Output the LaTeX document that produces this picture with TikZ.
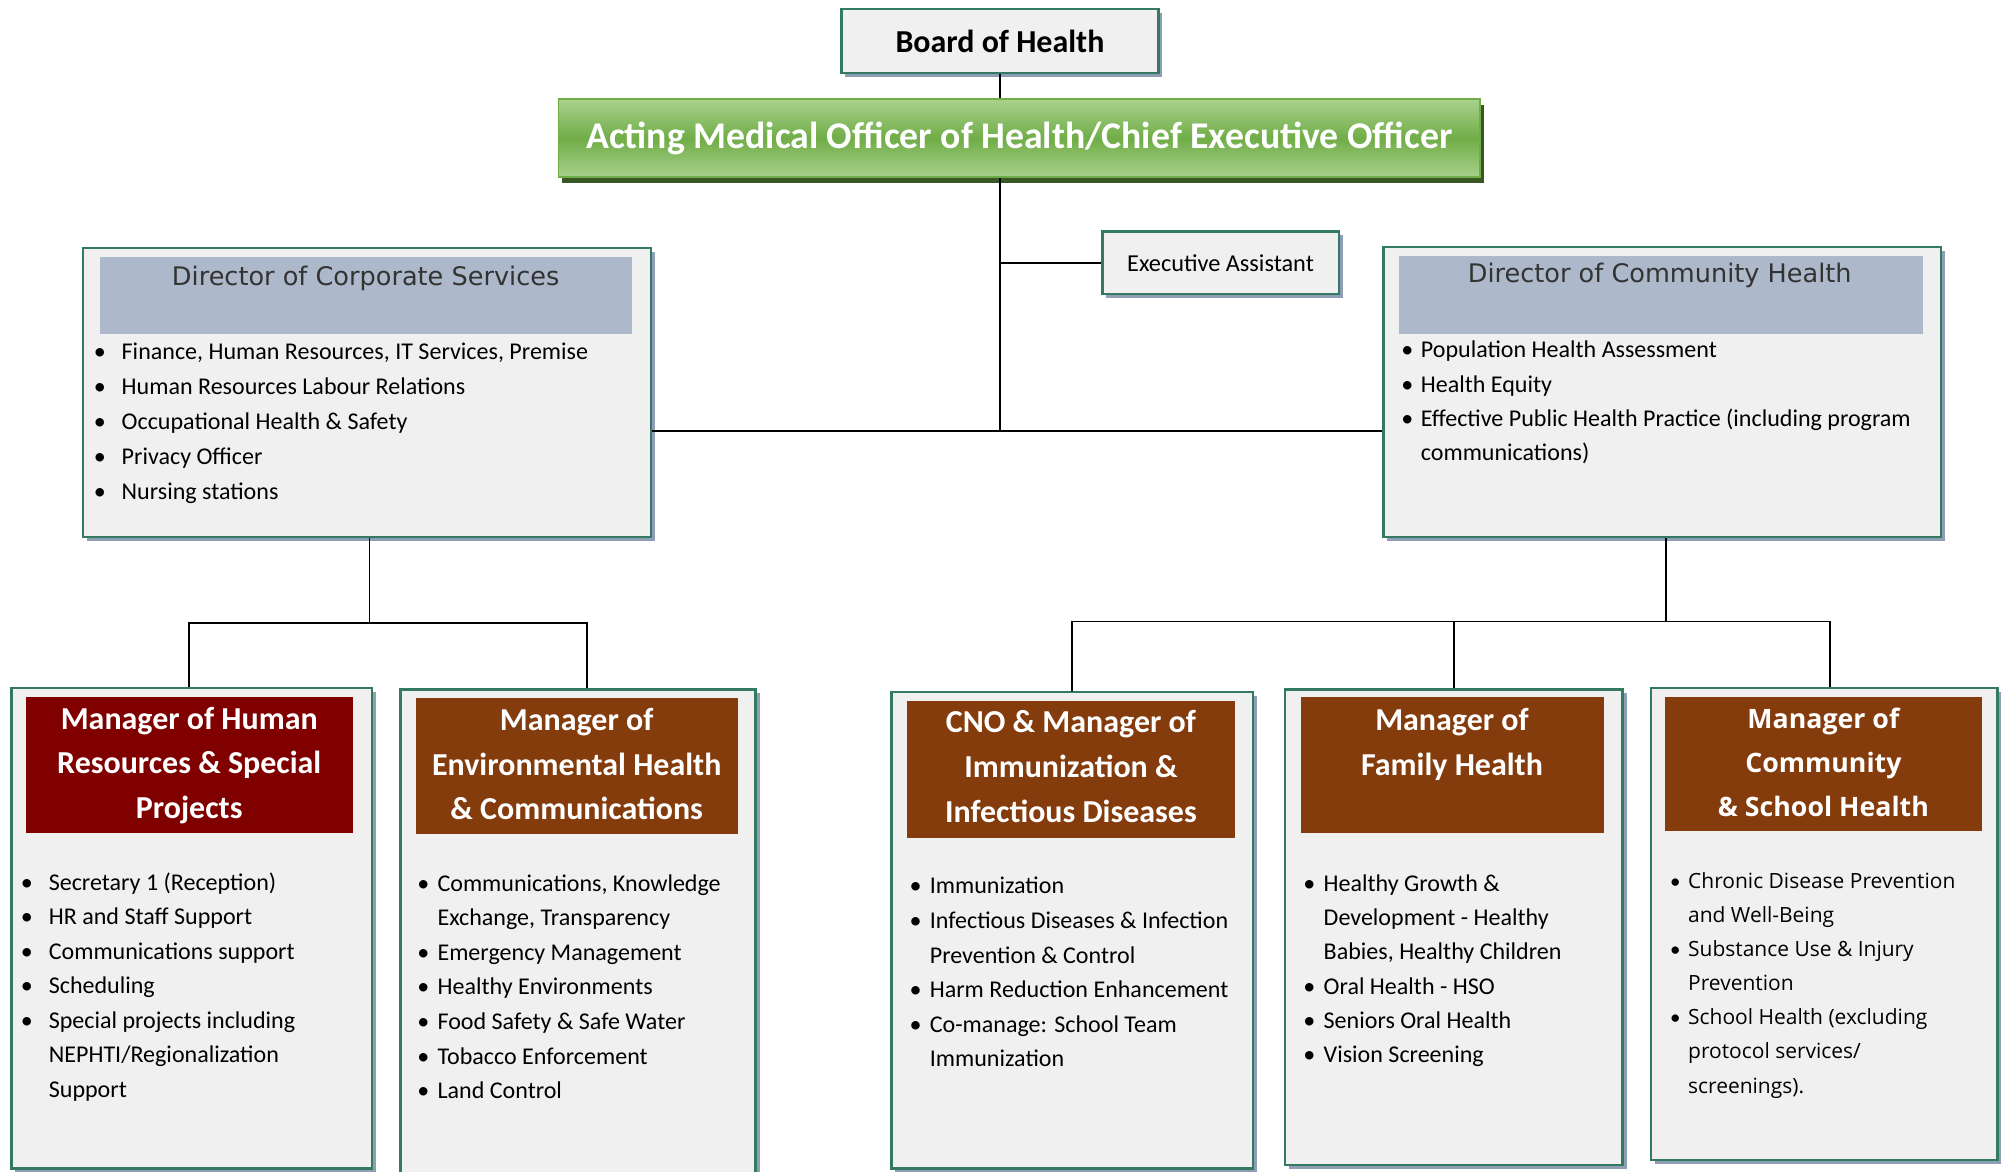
\documentclass[tikz,border=0pt]{standalone}
\usepackage{fontspec}
\setmainfont{Carlito}
\newfontfamily\opensans{Open Sans}
\newfontfamily\dejavu{DejaVu Sans}
\usetikzlibrary{shadows,calc}
\definecolor{bordergreen}{RGB}{52,122,96}
\definecolor{boxfill}{RGB}{240,240,240}
\definecolor{shadowblue}{RGB}{142,158,182}
\definecolor{headblue}{RGB}{173,185,202}
\definecolor{hrred}{RGB}{128,0,0}
\definecolor{mgrbrown}{RGB}{132,60,12}
\definecolor{greenlight}{RGB}{169,209,142}
\definecolor{greenmid}{RGB}{112,173,71}
\definecolor{greendark}{RGB}{56,87,35}
\newcommand{\orgbul}[1]{\llap{{\rmfamily\textbullet}\hspace{#1}}}
\tikzset{
  orgbox/.style={draw=bordergreen, line width=2pt, fill=boxfill, inner sep=0pt, anchor=north west,
    general shadow={fill=shadowblue, shadow xshift=3pt, shadow yshift=-3pt}},
  headrect/.style={draw=none, inner sep=0pt, anchor=north west},
  conn/.style={draw=black, line width=1.2pt},
  dirtitle/.style={anchor=base, inner sep=0pt, text=black!80, font=\dejavu\fontsize{20}{24}\selectfont},
  mgrtitle/.style={anchor=north, inner sep=0pt, align=center, text=white, font=\bfseries\fontsize{25}{35}\selectfont},
  listtext/.style={anchor=north west, inner sep=0pt, align=left, text=black, font=\fontsize{18.8}{#1}\selectfont},
}
\begin{document}
\begin{tikzpicture}[x=1pt,y=-1pt]
\useasboundingbox (0,0) rectangle (1568,916);

% top
\node[orgbox, minimum width=248pt, minimum height=50pt, font=\bfseries\fontsize{25}{28}\selectfont] (board) at (657,6) {Board of Health};
\node[anchor=north west, inner sep=0pt, minimum width=721pt, minimum height=61pt,
  top color=greenlight, bottom color=greenlight, middle color=greenmid, draw=greenmid, line width=1.5pt,
  general shadow={fill=greendark, shadow xshift=3pt, shadow yshift=-4pt},
  text=white, font=\bfseries\fontsize{29.5}{32}\selectfont] (mo) at (436,77) {Acting Medical Officer of Health/Chief Executive Officer};
\node[orgbox, minimum width=185pt, minimum height=49pt, font=\fontsize{19}{22}\selectfont] (ea) at (861,180) {Executive Assistant};

% directors
\node[orgbox, minimum width=444pt, minimum height=226pt] (corp) at (64,193) {};
\node[headrect, fill=headblue, minimum width=416pt, minimum height=60pt] (corphead) at (78,201) {};
\node[dirtitle] (corpt) at (286,223.3) {Director of Corporate Services};
\node[listtext=27.3] (corplist) at (95,262) {\strut\orgbul{12.5pt}Finance, Human Resources, IT Services, Premise\\
\orgbul{12.5pt}Human Resources Labour Relations\\
\orgbul{12.5pt}Occupational Health \& Safety\\
\orgbul{12.5pt}Privacy Officer\\
\orgbul{12.5pt}Nursing stations};

\node[orgbox, minimum width=436pt, minimum height=227pt] (comm) at (1081,192) {};
\node[headrect, fill=headblue, minimum width=410pt, minimum height=61pt] (commhead) at (1094,200) {};
\node[dirtitle] (commt) at (1298,221.3) {Director of Community Health};
\node[listtext=26.7] (commlist) at (1111,261) {\strut\orgbul{6pt}Population Health Assessment\\
\orgbul{6pt}Health Equity\\
\orgbul{6pt}Effective Public Health Practice (including program\\
communications)};

% managers
\node[orgbox, minimum width=282pt, minimum height=376pt] (hr) at (8,537) {};
\node[headrect, fill=hrred, minimum width=256pt, minimum height=106pt] (hrhead) at (20,545) {};
\node[mgrtitle] (hrt) at (148,545.5) {\strut Manager of Human\\Resources \& Special\\Projects};
\node[listtext=27] (hrlist) at (38,677) {\strut\orgbul{12.5pt}Secretary 1 (Reception)\\
\orgbul{12.5pt}HR and Staff Support\\
\orgbul{12.5pt}Communications support\\
\orgbul{12.5pt}Scheduling\\
\orgbul{12.5pt}Special projects including\\
NEPHTI/Regionalization\\
Support};

\node[orgbox, minimum width=278pt, minimum height=395pt] (env) at (312,538) {};
\node[headrect, fill=mgrbrown, minimum width=252pt, minimum height=106pt] (envhead) at (325,546) {};
\node[mgrtitle] (envt) at (451,546.5) {\strut Manager of\\Environmental Health\\\& Communications};
\node[listtext=27] (envlist) at (342,678) {\strut\orgbul{6.5pt}Communications, Knowledge\\
Exchange, Transparency\\
\orgbul{6.5pt}Emergency Management\\
\orgbul{6.5pt}Healthy Environments\\
\orgbul{6.5pt}Food Safety \& Safe Water\\
\orgbul{6.5pt}Tobacco Enforcement\\
\orgbul{6.5pt}Land Control};

\node[orgbox, minimum width=283pt, minimum height=373pt] (cno) at (696,540) {};
\node[headrect, fill=mgrbrown, minimum width=257pt, minimum height=107pt] (cnohead) at (709,548) {};
\node[mgrtitle] (cnot) at (837.5,548.5) {\strut CNO \& Manager of\\Immunization \&\\Infectious Diseases};
\node[listtext=27] (cnolist) at (727,680) {\strut\orgbul{6.5pt}Immunization\\
\orgbul{6.5pt}Infectious Diseases \& Infection\\
Prevention \& Control\\
\orgbul{6.5pt}Harm Reduction Enhancement\\
\orgbul{6.5pt}Co-manage: School Team\\
Immunization};

\node[orgbox, minimum width=264pt, minimum height=372pt] (fam) at (1004,538) {};
\node[headrect, fill=mgrbrown, minimum width=237pt, minimum height=106pt] (famhead) at (1017,545) {};
\node[mgrtitle] (famt) at (1135.5,546.5) {\strut Manager of\\Family Health};
\node[listtext=26.8] (famlist) at (1035,678) {\strut\orgbul{6.5pt}Healthy Growth \&\\
Development - Healthy\\
Babies, Healthy Children\\
\orgbul{6.5pt}Oral Health - HSO\\
\orgbul{6.5pt}Seniors Oral Health\\
\orgbul{6.5pt}Vision Screening};

\node[orgbox, minimum width=271pt, minimum height=369pt] (cs) at (1290,537) {};
\node[headrect, fill=mgrbrown, minimum width=248pt, minimum height=105pt] (cshead) at (1302,545) {};
\node[mgrtitle, font=\opensans\bfseries\fontsize{20.9}{34.5}\selectfont] (cst) at (1426,545.3) {\strut Manager of\\Community\\\& School Health};
\node[listtext=26.7, font=\opensans\fontsize{16.4}{26.7}\selectfont] (cslist) at (1320,675.7) {\strut\orgbul{6pt}Chronic Disease Prevention\\
and Well-Being\\
\orgbul{6pt}Substance Use \& Injury\\
Prevention\\
\orgbul{6pt}School Health (excluding\\
protocol services/\\
screenings).};

% connectors
\coordinate (hub) at (782,337);
\draw[conn] (board.south -| hub) -- (mo.north -| hub);
\draw[conn] (mo.south -| hub) -- (hub);
\draw[conn] (ea.west -| hub) -- (ea.west);
\draw[conn] (corp.east |- hub) -- (comm.west |- hub);

\coordinate (lbus) at (289,487);
\draw[conn] (corp.south -| lbus) -- (lbus);
\draw[conn] (lbus) -| ($(hr.north)+(-2,0)$);
\draw[conn] (lbus) -| ($(env.north)+(7,0)$);

\coordinate (rbus) at (1303,486);
\draw[conn] (comm.south -| rbus) -- (rbus);
\draw[conn] (rbus) -| (cno.north);
\draw[conn] (rbus) -| (fam.north);
\draw[conn] (rbus) -| ($(cs.north)+(4.5,0)$);
\end{tikzpicture}
\end{document}
